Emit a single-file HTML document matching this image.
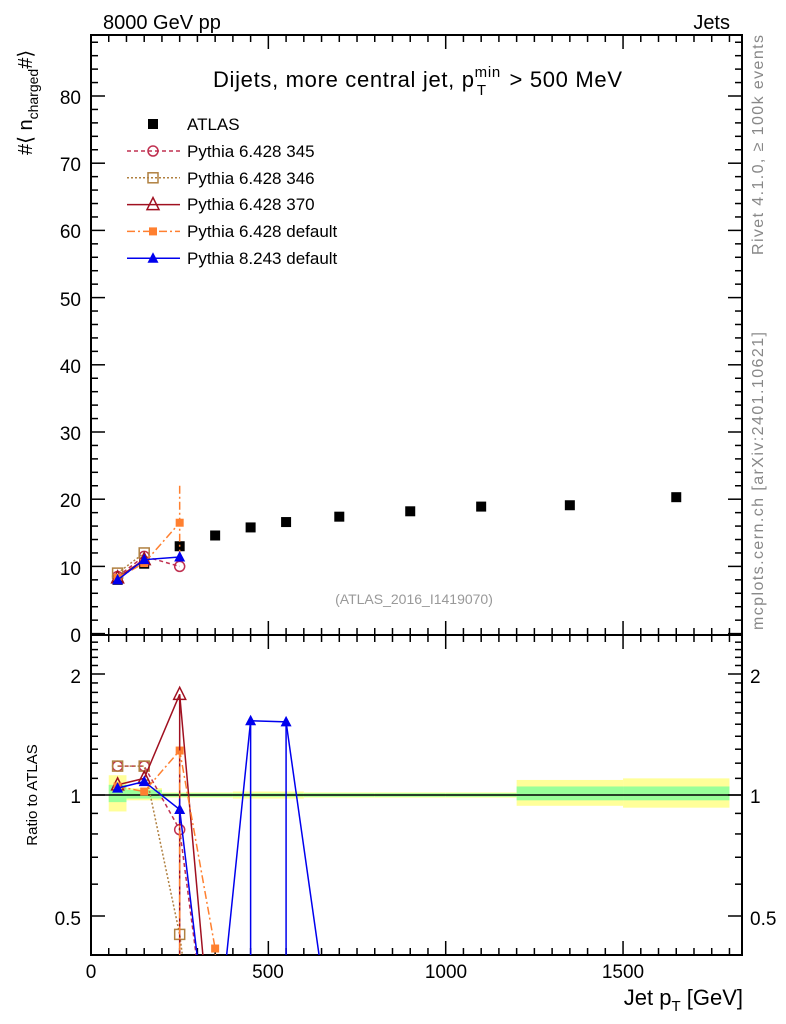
<!DOCTYPE html>
<html><head><meta charset="utf-8"><style>
body{margin:0;background:#fff;}
svg{display:block;font-family:"Liberation Sans",sans-serif;}
</style></head><body>
<svg id="s" width="786" height="1024" xmlns="http://www.w3.org/2000/svg">
<g id="g"></g>
<text x="103" y="29" font-size="20">8000 GeV pp</text>
<text x="730" y="29" font-size="20" text-anchor="end">Jets</text>
<text x="213" y="87" font-size="22" textLength="409">Dijets, more central jet, p<tspan font-size="15" dy="-10">min</tspan><tspan font-size="15" dx="-24" dy="18">T</tspan><tspan dx="16" dy="-8"> &gt; 500 MeV</tspan></text>
<text x="187" y="130" font-size="17">ATLAS</text>
<text x="187" y="157" font-size="17">Pythia 6.428 345</text>
<text x="187" y="184" font-size="17">Pythia 6.428 346</text>
<text x="187" y="210" font-size="17">Pythia 6.428 370</text>
<text x="187" y="237" font-size="17">Pythia 6.428 default</text>
<text x="187" y="264" font-size="17">Pythia 8.243 default</text>
<text x="414" y="604" font-size="14" fill="#999" text-anchor="middle">(ATLAS_2016_I1419070)</text>
<text font-size="20" transform="translate(32,155) rotate(-90)">#⟨ n<tspan font-size="14" dy="6">charged</tspan><tspan dy="-6">#⟩</tspan></text>
<text font-size="15" transform="translate(37,795) rotate(-90)" text-anchor="middle">Ratio to ATLAS</text>
<text font-size="16" fill="#888" transform="translate(763,255) rotate(-90)" textLength="220">Rivet 4.1.0, ≥ 100k events</text>
<text font-size="16" fill="#888" transform="translate(763,630) rotate(-90)" textLength="298">mcplots.cern.ch [arXiv:2401.10621]</text>
<text x="81" y="104" font-size="19" text-anchor="end">80</text>
<text x="81" y="171" font-size="19" text-anchor="end">70</text>
<text x="81" y="238" font-size="19" text-anchor="end">60</text>
<text x="81" y="306" font-size="19" text-anchor="end">50</text>
<text x="81" y="373" font-size="19" text-anchor="end">40</text>
<text x="81" y="440" font-size="19" text-anchor="end">30</text>
<text x="81" y="507" font-size="19" text-anchor="end">20</text>
<text x="81" y="575" font-size="19" text-anchor="end">10</text>
<text x="81" y="642" font-size="19" text-anchor="end">0</text>
<text x="81" y="683" font-size="19" text-anchor="end">2</text>
<text x="81" y="803" font-size="19" text-anchor="end">1</text>
<text x="81" y="925" font-size="19" text-anchor="end">0.5</text>
<text x="750" y="683" font-size="19">2</text>
<text x="750" y="803" font-size="19">1</text>
<text x="750" y="925" font-size="19">0.5</text>
<text x="91" y="978" font-size="19" text-anchor="middle">0</text>
<text x="268" y="978" font-size="19" text-anchor="middle">500</text>
<text x="446" y="978" font-size="19" text-anchor="middle">1000</text>
<text x="623" y="978" font-size="19" text-anchor="middle">1500</text>
<text x="743" y="1005" font-size="22" text-anchor="end">Jet p<tspan font-size="15" dy="6">T</tspan><tspan dy="-6"> [GeV]</tspan></text>
</svg>
<script>
const NS="http://www.w3.org/2000/svg",g=document.getElementById('g');
function el(t,a){const e=document.createElementNS(NS,t);for(const k in a)e.setAttribute(k,a[k]);g.appendChild(e);return e;}
const L=91,Rt=742,T=35,M=635,B=955;
const X=v=>L+v*0.3547, Y=v=>633.6-v*6.72, R=r=>795-121*Math.log2(r);
const bands=[[50,100,.91,1.12,.96,1.06],[100,200,.97,1.04,.98,1.03],[200,400,.985,1.015,.99,1.01],[400,600,.98,1.02,.99,1.01],[600,800,.985,1.015,.99,1.01],[800,1000,.985,1.015,.99,1.01],[1000,1200,.985,1.015,.99,1.01],[1200,1500,.94,1.09,.97,1.05],[1500,1800,.93,1.1,.97,1.05]];
bands.forEach(b=>{el('rect',{x:X(b[0]),y:R(b[3]),width:X(b[1])-X(b[0]),height:R(b[2])-R(b[3]),fill:'#ffff99'});el('rect',{x:X(b[0]),y:R(b[5]),width:X(b[1])-X(b[0]),height:R(b[4])-R(b[5]),fill:'#99ff99'});});
el('line',{x1:L,x2:Rt,y1:795,y2:795,stroke:'#000','stroke-width':1.5});
el('rect',{x:L,y:T,width:Rt-L,height:M-T,fill:'none',stroke:'#000','stroke-width':2});
el('rect',{x:L,y:M,width:Rt-L,height:B-M,fill:'none',stroke:'#000','stroke-width':2});
for(let v=0;v<=1800;v+=50){const big=v%500==0,len=big?14:7;[T,M].forEach(y=>el('line',{x1:X(v),x2:X(v),y1:y,y2:y+len,stroke:'#000','stroke-width':1.5}));[M,B].forEach(y=>el('line',{x1:X(v),x2:X(v),y1:y,y2:y-len,stroke:'#000','stroke-width':1.5}));}
for(let v=0;v<=88;v+=2){const big=v%10==0,len=big?14:7;if(Y(v)<T)continue;el('line',{x1:L,x2:L+len,y1:Y(v),y2:Y(v),stroke:'#000','stroke-width':1.5});el('line',{x1:Rt,x2:Rt-len,y1:Y(v),y2:Y(v),stroke:'#000','stroke-width':1.5});}
[.4,.5,.6,.7,.8,.9,1,1.1,1.2,1.3,1.4,1.5,1.6,1.7,1.8,1.9,2,2.1,2.2,2.3,2.4].forEach(v=>{const big=[.5,1,2].some(q=>Math.abs(q-v)<1e-6),len=big?14:7;if(R(v)<M||R(v)>B)return;el('line',{x1:L,x2:L+len,y1:R(v),y2:R(v),stroke:'#000','stroke-width':1.5});el('line',{x1:Rt,x2:Rt-len,y1:R(v),y2:R(v),stroke:'#000','stroke-width':1.5});});
const cp=el('clipPath',{id:'c'});const cr=document.createElementNS(NS,'rect');cr.setAttribute('x',L);cr.setAttribute('y',M);cr.setAttribute('width',Rt-L);cr.setAttribute('height',B-M);cp.appendChild(cr);
function line(pts,col,dash,clip){const e=el('polyline',{points:pts.map(p=>p.join(',')).join(' '),fill:'none',stroke:col,'stroke-width':1.5});if(dash)e.setAttribute('stroke-dasharray',dash);if(clip)e.setAttribute('clip-path','url(#c)');return e;}
function mk(type,x,y,col){if(type=='sq')el('rect',{x:x-5,y:y-5,width:10,height:10,fill:col});
if(type=='osq')el('rect',{x:x-5,y:y-5,width:10,height:10,fill:'none',stroke:col,'stroke-width':1.5});
if(type=='oc')el('circle',{cx:x,cy:y,r:5,fill:'none',stroke:col,'stroke-width':1.5});
if(type=='ot')el('polygon',{points:`${x},${y-7} ${x-6},${y+5} ${x+6},${y+5}`,fill:'none',stroke:col,'stroke-width':1.5});
if(type=='t')el('polygon',{points:`${x},${y-6} ${x-5.5},${y+4.5} ${x+5.5},${y+4.5}`,fill:col});
if(type=='fs')el('rect',{x:x-4,y:y-4,width:8,height:8,fill:col});}
mk('sq',153,124,'#000');
const leg=[['oc','#c03050','4,3'],['osq','#b08040','2,2'],['ot','#a01020',''],['fs','#ff8030','8,3,2,3'],['t','#0000ee','']];
leg.forEach((s,i)=>{const y=151+i*26.8;line([[127,y],[180,y]],s[1],s[2]);mk(s[0],153,y,s[1]);});
[[75,8.0],[150,10.4],[250,13],[350,14.6],[450,15.8],[550,16.6],[700,17.4],[900,18.2],[1100,18.9],[1350,19.1],[1650,20.3]].forEach(p=>mk('sq',X(p[0]),Y(p[1]),'#000'));
const S=[
 {t:'oc',c:'#c03050',d:'4,3',m:[[75,8.5],[150,11.5],[250,10.0]],r:[[75,1.18],[150,1.18],[250,0.82],[315,0.3]]},
 {t:'osq',c:'#b08040',d:'2,2',m:[[75,9.0],[150,12.0]],r:[[75,1.18],[150,1.18],[250,0.45],[276,0.3]]},
 {t:'ot',c:'#a01020',d:'',m:[[75,8.3],[150,11.0]],r:[[75,1.06],[150,1.1],[250,1.78],[328,0.3]]},
 {t:'fs',c:'#ff8030',d:'8,3,2,3',m:[[75,8.3],[150,10.5],[250,16.5]],r:[[75,1.05],[150,1.02],[250,1.29],[350,0.415],[356,0.3]]},
 {t:'t',c:'#0000ee',d:'',m:[[75,8.0],[150,11.0],[250,11.4]],r:[[75,1.04],[150,1.08],[250,0.92],[316,0.3],[368,0.3],[450,1.53],[550,1.52],[663,0.3]]}];
el('line',{x1:X(250),x2:X(250),y1:Y(22),y2:Y(11),stroke:'#ff8030','stroke-width':1.5,'stroke-dasharray':'8,3,2,3'});
S.forEach(s=>{line(s.m.map(p=>[X(p[0]),Y(p[1])]),s.c,s.d);s.m.forEach(p=>mk(s.t,X(p[0]),Y(p[1]),s.c));
 line(s.r.map(p=>[X(p[0]),R(p[1])]),s.c,s.d,true);
 s.r.forEach(p=>{if(p[1]>0.36)mk(s.t,X(p[0]),R(p[1]),s.c);});});
el('line',{x1:X(250),x2:X(250),y1:R(1.78),y2:B,stroke:'#a01020','stroke-width':1.5});
el('line',{x1:X(250),x2:X(250),y1:R(1.29),y2:B,stroke:'#ff8030','stroke-width':1.5,'stroke-dasharray':'8,3,2,3'});
el('line',{x1:X(450),x2:X(450),y1:R(1.53),y2:B,stroke:'#0000ee','stroke-width':1.5});
el('line',{x1:X(550),x2:X(550),y1:R(1.52),y2:B,stroke:'#0000ee','stroke-width':1.5});
el('line',{x1:X(250),x2:X(250),y1:R(0.98),y2:R(0.85),stroke:'#0000ee','stroke-width':1.5});
</script>
</body></html>
